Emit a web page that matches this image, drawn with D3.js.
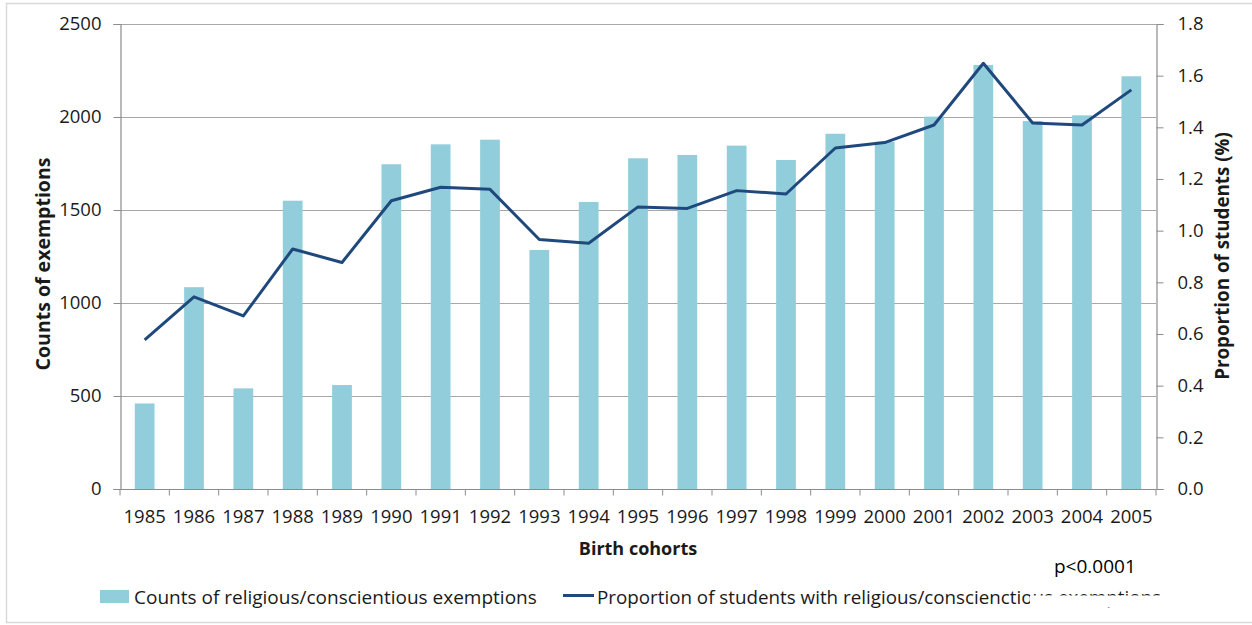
<!DOCTYPE html>
<html>
<head>
<meta charset="utf-8">
<script src="https://cdn.jsdelivr.net/npm/d3@7"></script>
<style>
  html, body { margin: 0; padding: 0; background: #fff; }
  svg { display: block; font-family: "Open Sans", Lato, sans-serif; }
</style>
</head>
<body>
<svg id="chart" width="1252" height="625"></svg>
<script>
// Birth cohorts on the category axis
const cohorts = ["1985","1986","1987","1988","1989","1990","1991","1992","1993","1994","1995",
                 "1996","1997","1998","1999","2000","2001","2002","2003","2004","2005"];
// Counts of religious/conscientious exemptions (left axis)
const exemptionCounts = [460, 1085, 541, 1550, 559, 1746, 1853, 1878, 1285, 1543, 1778,
                         1796, 1846, 1769, 1910, 1867, 2002, 2280, 1978, 2009, 2219];
// Proportion of students with exemptions, in % (right axis)
const proportionPct = [0.577, 0.744, 0.670, 0.929, 0.877, 1.116, 1.168, 1.160, 0.966, 0.951, 1.092,
                       1.086, 1.155, 1.142, 1.320, 1.341, 1.409, 1.648, 1.417, 1.409, 1.545];
// Axis tick values
const countTicks = [0, 500, 1000, 1500, 2000, 2500];
const pctTicks = [0, 0.2, 0.4, 0.6, 0.8, 1.0, 1.2, 1.4, 1.6, 1.8];

const barColor = "#92cddc";
const lineColor = "#1f497d";
const gridColor = "#a8a8a8";
const axisColor = "#8c8c8c";
const textColor = "#1a1a1a";
const font = "'Open Sans', Lato, sans-serif";

const svg = d3.select("#chart");
const plot = { left: 120, right: 1156, top: 24, bottom: 489 };

// outer chart border
svg.append("rect")
  .attr("x", 6.5).attr("y", 3.5).attr("width", 1250).attr("height", 619)
  .attr("fill", "none").attr("stroke", "#d9d9d9").attr("stroke-width", 1.5);

const x = d3.scaleBand().domain(cohorts).range([plot.left, plot.right]).paddingInner(0.6).paddingOuter(0.3);
const xEdge = d3.scaleBand().domain(cohorts).range([plot.left, plot.right]).padding(0);
const yLeft = d3.scaleLinear().domain([0, 2500]).range([plot.bottom, plot.top]);
const yRight = d3.scaleLinear().domain([0, 1.8]).range([plot.bottom, plot.top]);

// horizontal gridlines
svg.append("g").selectAll("line").data(countTicks.slice(1)).join("line")
  .attr("x1", plot.left).attr("x2", plot.right)
  .attr("y1", d => Math.round(yLeft(d)) + 0.5).attr("y2", d => Math.round(yLeft(d)) + 0.5)
  .attr("stroke", gridColor).attr("stroke-width", 1.2);

// bars
svg.append("g").selectAll("rect").data(cohorts).join("rect")
  .attr("x", d => x(d))
  .attr("width", x.bandwidth())
  .attr("y", (d, i) => yLeft(exemptionCounts[i]))
  .attr("height", (d, i) => yLeft(0) - yLeft(exemptionCounts[i]))
  .attr("fill", barColor);

// left axis
const leftAxis = svg.append("g")
  .attr("transform", `translate(${plot.left + 0.5},0)`)
  .call(d3.axisLeft(yLeft).tickValues(countTicks).tickSize(7).tickPadding(12).tickFormat(d3.format("d")));
// right axis
const rightAxis = svg.append("g")
  .attr("transform", `translate(${plot.right + 0.5},0)`)
  .call(d3.axisRight(yRight).tickValues(pctTicks).tickSize(7).tickPadding(14).tickFormat(d3.format(".1f")));
// bottom axis with tick marks between categories
const bottomAxis = svg.append("g")
  .attr("transform", `translate(0,${plot.bottom + 0.5})`)
  .call(d3.axisBottom(xEdge).tickSize(0).tickPadding(20));
bottomAxis.append("g").selectAll("line")
  .data(cohorts)
  .join("line")
  .attr("x1", (d, i) => plot.left + (i + 1) * xEdge.step())
  .attr("x2", (d, i) => plot.left + (i + 1) * xEdge.step())
  .attr("y1", 0).attr("y2", 6)
  .attr("stroke", axisColor);
bottomAxis.append("line").attr("x1", plot.left).attr("x2", plot.left).attr("y1", 0).attr("y2", 6).attr("stroke", axisColor);

[leftAxis, rightAxis, bottomAxis].forEach(g => {
  g.select(".domain").attr("stroke", axisColor).attr("stroke-width", 1.2);
  g.selectAll(".tick line").attr("stroke", axisColor);
  g.selectAll(".tick text").attr("fill", textColor).attr("font-size", 18.5)
    .attr("font-family", font);
});
bottomAxis.select(".domain").attr("d", `M${plot.left},0H${plot.right}`);

// proportion line
const line = d3.line()
  .x((d, i) => x(cohorts[i]) + x.bandwidth() / 2)
  .y(d => yRight(d));
svg.append("path").datum(proportionPct)
  .attr("d", line)
  .attr("fill", "none").attr("stroke", lineColor).attr("stroke-width", 3)
  .attr("stroke-linejoin", "round");

// axis titles
svg.append("text")
  .attr("transform", "translate(42,264) rotate(-90)")
  .attr("text-anchor", "middle").attr("dominant-baseline", "central")
  .attr("font-size", 19.5).attr("font-weight", "bold").attr("fill", textColor)
  .text("Counts of exemptions");
svg.append("text")
  .attr("transform", "translate(1222,256) rotate(-90)")
  .attr("text-anchor", "middle").attr("dominant-baseline", "central")
  .attr("font-size", 18.8).attr("font-weight", "bold").attr("fill", textColor)
  .text("Proportion of students (%)");
svg.append("text")
  .attr("x", 638).attr("y", 548)
  .attr("text-anchor", "middle").attr("dominant-baseline", "central")
  .attr("font-size", 18).attr("font-weight", "bold").attr("fill", textColor)
  .text("Birth cohorts");

// legend
const legend = svg.append("g");
legend.append("rect").attr("x", 100).attr("y", 590).attr("width", 29).attr("height", 13).attr("fill", barColor);
legend.append("text").attr("x", 134).attr("y", 597).attr("dominant-baseline", "central")
  .attr("font-size", 19).attr("fill", textColor)
  .text("Counts of religious/conscientious exemptions");
legend.append("line").attr("x1", 563).attr("x2", 594).attr("y1", 595.5).attr("y2", 595.5)
  .attr("stroke", lineColor).attr("stroke-width", 3);
legend.append("text").attr("x", 597).attr("y", 597).attr("dominant-baseline", "central")
  .attr("font-size", 18.8).attr("fill", textColor)
  .text("Proportion of students with religious/conscienctious exemptions");

// annotation box sits over the end of the legend text
svg.append("rect").attr("x", 1030).attr("y", 595.5).attr("width", 145).attr("height", 12).attr("fill", "#fff");
svg.append("text").attr("x", 1054).attr("y", 566).attr("dominant-baseline", "central")
  .attr("font-size", 19).attr("fill", "#000")
  .text("p<0.0001");
</script>
</body>
</html>
